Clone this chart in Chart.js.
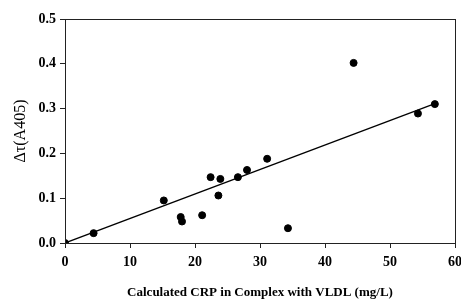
<!DOCTYPE html>
<html>
<head>
<meta charset="utf-8">
<script src="https://cdn.jsdelivr.net/npm/chart.js@4/dist/chart.umd.min.js"></script>
<style>
  html, body { margin: 0; padding: 0; background: #fff; }
  #wrap { width: 461px; height: 304px; }
</style>
</head>
<body>
<div id="wrap"><canvas id="c" width="461" height="304"></canvas></div>
<script>
// 讀圖估計的數據
const crpX = [0, 4.4, 15.2, 17.8, 18.0, 21.1, 22.4, 23.6, 23.9, 26.6, 28.0, 31.1, 34.3, 44.4, 54.3, 56.9];
const tauY = [0, 0.022, 0.095, 0.058, 0.048, 0.062, 0.147, 0.106, 0.143, 0.147, 0.163, 0.188, 0.033, 0.402, 0.289, 0.310];
const fitX = [0, 56.9];
const fitY = [0, 0.311];
const xTicks = [0, 10, 20, 30, 40, 50, 60];
const yTicks = [0.0, 0.1, 0.2, 0.3, 0.4, 0.5];

const serif = "'Liberation Serif', 'Times New Roman', serif";

// 外框
const boxPlugin = {
    id: 'box',
    afterDraw(chart) {
        const a = chart.chartArea;
        const ctx = chart.ctx;
        ctx.save();
        ctx.strokeStyle = '#222';
        ctx.lineWidth = 1;
        ctx.strokeRect(Math.round(a.left) + 0.5, Math.round(a.top) + 0.5,
            Math.round(a.right - a.left), Math.round(a.bottom - a.top));
        ctx.restore();
    }
};

new Chart(document.getElementById('c'), {
    type: 'scatter',
    data: {
        datasets: [
            {
                data: crpX.map((x, i) => ({ x, y: tauY[i] })),
                backgroundColor: '#000',
                borderColor: '#000',
                pointRadius: 3.5,
                pointHoverRadius: 3.5
            },
            {
                type: 'line',
                data: fitX.map((x, i) => ({ x, y: fitY[i] })),
                borderColor: '#000',
                borderWidth: 1.3,
                pointRadius: 0,
                fill: false
            }
        ]
    },
    options: {
        responsive: false,
        animation: false,
        events: [],
        layout: { padding: { top: 19, right: 6, left: 0, bottom: 0 } },
        plugins: { legend: { display: false }, tooltip: { enabled: false } },
        scales: {
            x: {
                type: 'linear',
                min: 0, max: 60,
                afterBuildTicks: s => { s.ticks = xTicks.map(v => ({ value: v })); },
                afterFit: s => { s.height = 61; s.paddingRight = 0; s.paddingLeft = 0; },
                grid: { drawOnChartArea: false, drawTicks: true, tickLength: 5, color: '#222' },
                border: { color: '#222' },
                ticks: { color: '#000', font: { family: serif, size: 14, weight: 'bold' }, padding: 6, maxRotation: 0 },
                title: { display: true, text: 'Calculated CRP in Complex with VLDL (mg/L)', color: '#000',
                    font: { family: serif, size: 13, weight: 'bold' }, padding: { top: 10 } }
            },
            y: {
                type: 'linear',
                min: 0, max: 0.5,
                afterBuildTicks: s => { s.ticks = yTicks.map(v => ({ value: v })); },
                afterFit: s => { s.width = 65; s.paddingTop = 0; s.paddingBottom = 0; },
                grid: { drawOnChartArea: false, drawTicks: true, tickLength: 5, color: '#222' },
                border: { color: '#222' },
                ticks: { color: '#000', font: { family: serif, size: 14, weight: 'bold' }, padding: 4,
                    callback: v => v.toFixed(1) },
                title: { display: true, text: 'Δτ(A405)', color: '#000',
                    font: { family: serif, size: 16 }, padding: { top: 11, bottom: 0 } }
            }
        }
    },
    plugins: [boxPlugin]
});
</script>
</body>
</html>
